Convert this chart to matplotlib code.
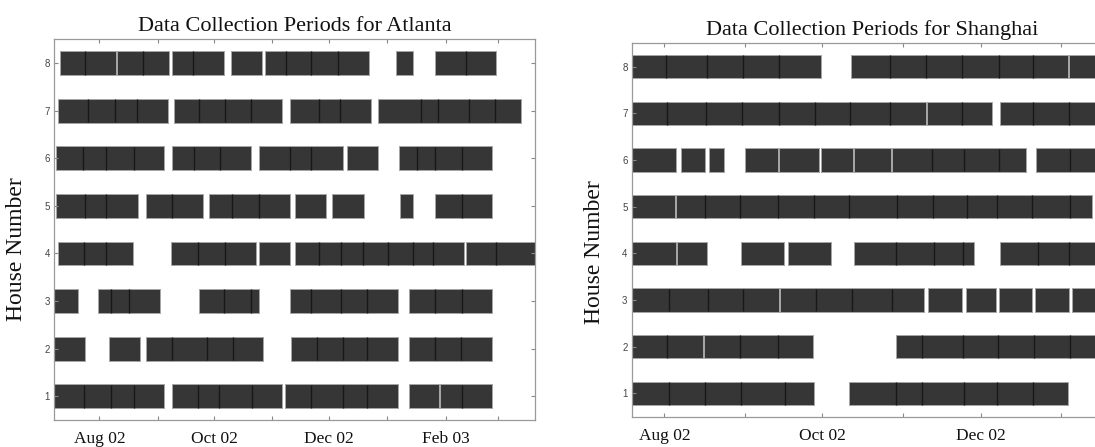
import datetime as dt
import matplotlib
matplotlib.use('Agg')
import matplotlib.pyplot as plt

# days counted from 1 Aug 2002; each block lists its segment boundaries
atl_h1 = [[-30, -8.0, 6.2, 18.2, 34.1], [38.5, 52.4, 63.5, 81.0, 96.8],
          [98.9, 112.7, 129.5, 142.2, 158.6], [164.4, 180.4], [181.0, 192.6, 208.6]]
atl_h2 = [[-30, -7.6], [5.3, 21.6], [24.7, 38.5, 57.0, 70.8, 87.2],
          [101.8, 115.7, 129.5, 142.2, 158.6], [164.4, 178.4, 192.2, 208.6]]
atl_h3 = [[-30, -11.3], [-0.8, 6.2, 16.0, 32.3], [52.7, 66.2, 80.4, 84.8],
          [101.3, 112.7, 128.4, 142.2, 158.6], [164.4, 178.4, 192.6, 208.6]]
atl_h4 = [[-21.8, -8.0, 3.8, 17.7], [38.0, 52.4, 66.8, 83.2], [84.7, 101.1],
          [103.9, 116.6, 128.4, 140.0, 153.5, 166.8, 177.5, 193.9], [195.0, 211.0, 240]]
atl_h5 = [[-22.9, -7.6, 3.5, 20.3], [24.7, 38.5, 55.1], [58.5, 70.4, 84.7, 101.1],
          [103.9, 120.6], [123.8, 140.4], [159.8, 166.4], [178.4, 192.6, 208.6]]
atl_h6 = [[-22.9, -8.5, 3.5, 18.2, 34.1], [38.5, 50.2, 64.0, 80.4],
          [84.7, 101.3, 112.3, 129.3], [131.7, 148.3], [159.4, 168.6, 178.4, 192.6, 208.6]]
atl_h7 = [[-21.8, -6.1, 8.1, 20.1, 36.7], [39.8, 52.7, 66.8, 80.6, 96.8],
          [101.3, 116.6, 128.0, 144.6], [148.0, 171.0, 180.0, 196.3, 210.1, 224.0]]
atl_h8 = [[-20.9, -7.6, 8.6], [9.6, 23.4, 37.2], [38.5, 49.6, 66.2], [69.9, 86.5],
          [88.0, 99.4, 112.7, 126.7, 143.3], [157.5, 166.4], [178.4, 195.0, 210.7]]

sha_h1 = [[-12.3, 1.9, 15.8, 29.5, 46.5, 57.8], [71.4, 89.4, 99.4, 115.5, 128.5, 142.3, 155.6]]
sha_h2 = [[-20, 0.9, 14.9], [15.3, 29.2, 43.7, 57.4], [89.5, 99.5, 115.2, 128.6, 142.5, 156.5, 190]]
sha_h3 = [[-20, 1.9, 16.7, 30.4, 44.4], [44.8, 58.5, 72.4, 87.8, 100.3], [101.8, 115.0],
          [116.2, 128.1], [129.1, 142.0], [142.8, 156.1], [157.1, 190]]
sha_h4 = [[-12.3, 4.3], [4.7, 16.4], [29.5, 46.2], [47.8, 64.3], [73.2, 89.5, 104.0, 115.4, 119.3],
          [129.6, 144.3, 156.0, 190]]
sha_h5 = [[-20, 4.0], [4.4, 15.8, 29.2, 43.7, 57.8, 71.3, 89.6, 103.7, 116.6, 128.5, 141.7, 156.5, 165.1]]
sha_h6 = [[-12.3, 4.3], [6.6, 15.8], [17.4, 23.0], [31.1, 43.9], [44.3, 59.6], [60.5, 72.9],
          [73.3, 87.4], [88.0, 103.1, 115.7, 129.2, 139.4], [143.5, 156.5, 190]]
sha_h7 = [[-20, 1.2, 16.0, 29.9, 44.1, 58.1, 71.7, 86.9, 100.9], [101.2, 115.0, 126.5],
          [129.5, 142.3, 156.1, 190]]
sha_h8 = [[-12.3, 0.8, 16.4, 30.4, 44.3, 60.6], [72.1, 87.2, 101.0, 114.8, 129.0, 142.3, 155.6],
          [156.0, 190]]

atlanta = [atl_h1, atl_h2, atl_h3, atl_h4, atl_h5, atl_h6, atl_h7, atl_h8]
shanghai = [sha_h1, sha_h2, sha_h3, sha_h4, sha_h5, sha_h6, sha_h7, sha_h8]

base = dt.date(2002, 8, 1)
atl_months = [dt.date(2002, 8, 1), dt.date(2002, 9, 1), dt.date(2002, 10, 1), dt.date(2002, 11, 1),
              dt.date(2002, 12, 1), dt.date(2003, 1, 1), dt.date(2003, 2, 1), dt.date(2003, 3, 1)]
atl_labels = ['Aug 02', '', 'Oct 02', '', 'Dec 02', '', 'Feb 03', '']
sha_months = atl_months[:6]
sha_labels = atl_labels[:6]

serif = 'Liberation Serif'


def draw(ax, rows, title, xlim, months, labels, label_y):
    for i, blocks in enumerate(rows):
        h = i + 1
        for b in blocks:
            ax.broken_barh([(b[0], b[-1] - b[0])], (h - 0.25, 0.5),
                           facecolor='#363636', edgecolor='#a6a6a6', linewidth=0.7)
            if len(b) > 2:
                ax.vlines(b[1:-1], h - 0.245, h + 0.245, color='#181818', linewidth=1.0)
    ax.set_xlim(xlim)
    ax.set_ylim(0.5, 8.5)
    ax.set_yticks(range(1, 9))
    ax.set_xticks([(m - base).days for m in months])
    ax.set_xticklabels(labels, fontfamily=serif, fontsize=12.5, color='#111111')
    for lab in ax.get_yticklabels():
        lab.set_fontfamily('Liberation Sans')
        lab.set_fontsize(7)
        lab.set_color('#444444')
    ax.tick_params(axis='x', direction='in', top=True, length=3, pad=8, color='#888888')
    ax.tick_params(axis='y', direction='in', right=True, length=3, pad=3, color='#888888')
    for s in ax.spines.values():
        s.set_color('#999999')
        s.set_linewidth(0.9)
    ax.set_title(title, fontfamily=serif, fontsize=16, pad=6, color='#111111')
    ax.set_ylabel('House Number', fontfamily=serif, fontsize=17, color='#111111')
    ax.yaxis.set_label_coords(-0.056, label_y)


fig = plt.figure(figsize=(10.95, 4.47), dpi=100)
ax1 = fig.add_axes([0.0493, 0.0604, 0.4393, 0.8517])
ax2 = fig.add_axes([0.5769, 0.0678, 0.4384, 0.8353])

draw(ax1, atlanta, 'Data Collection Periods for Atlanta', (-24.1, 231.5), atl_months, atl_labels, 0.45)
draw(ax2, shanghai, 'Data Collection Periods for Shanghai', (-12.6, 172.6), sha_months, sha_labels, 0.44)

fig.savefig('out.png', dpi=100)
